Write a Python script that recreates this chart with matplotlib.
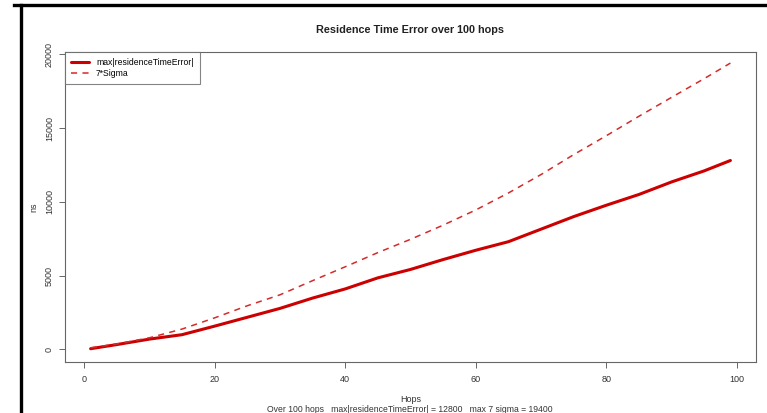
import matplotlib
matplotlib.use("Agg")
import matplotlib.pyplot as plt
from matplotlib.lines import Line2D

plt.rcParams['font.family'] = ['Liberation Sans', 'DejaVu Sans']

# values
hops = [1, 5, 10, 15, 20, 25, 30, 35, 40, 45, 50, 55, 60, 65, 70, 75, 80, 85, 90, 95, 99]
max_rte = [50, 330, 700, 1000, 1580, 2180, 2780, 3480, 4100, 4850, 5420, 6090, 6720,
           7300, 8150, 9000, 9770, 10500, 11350, 12100, 12800]
seven_sigma = [110, 370, 790, 1380, 2140, 2960, 3700, 4660, 5600, 6560, 7460, 8420, 9450,
               10600, 11850, 13200, 14480, 15800, 17080, 18350, 19400]

xticks = [0, 20, 40, 60, 80, 100]
yticks = [0, 5000, 10000, 15000, 20000]

W, H = 767, 413
fig = plt.figure(figsize=(W / 100, H / 100), dpi=100)

# black screenshot frame
fig.add_artist(Line2D([21 / W, 21 / W], [0, 1 - 5 / H], color='black', lw=2.4,
                      transform=fig.transFigure))
fig.add_artist(Line2D([14 / W, 1], [1 - 5 / H, 1 - 5 / H], color='black', lw=2.4,
                      transform=fig.transFigure))

L, R, T, B = 65, 756, 52, 362
ax = fig.add_axes([L / W, 1 - B / H, (R - L) / W, (B - T) / H])

red = '#cc0000'
ax.plot(hops, max_rte, color=red, lw=2.2, solid_capstyle='round',
        label='max|residenceTimeError|')
ax.plot(hops, seven_sigma, color='#d42a2a', lw=1.1, dashes=(4, 3.5),
        label='7*Sigma')

ax.set_xlim(-2.92, 102.92)
ax.set_ylim(-850, 20150)
ax.set_xticks(xticks)
ax.set_yticks(yticks)

for s in ax.spines.values():
    s.set_color('#666666')
    s.set_linewidth(0.8)
ax.tick_params(direction='out', length=4, width=0.7, color='#666666',
               labelsize=6.5, labelcolor='#333333')
ax.tick_params(axis='x', pad=5)
ax.tick_params(axis='y', pad=4)
plt.setp(ax.get_yticklabels(), rotation=90, va='center')

ax.set_title('Residence Time Error over 100 hops', fontsize=7.8, fontweight='bold',
             color='#222222', pad=14)
ax.set_ylabel('ns', fontsize=6.5, color='#333333', labelpad=5)
fig.text((L + R) / 2 / W, 1 - 400 / H, 'Hops', fontsize=6.5, color='#333333',
         ha='center', va='center')
fig.text(410 / W, 1 - 409 / H,
         'Over 100 hops   max|residenceTimeError| = 12800   max 7 sigma = 19400',
         fontsize=6.2, color='#333333', ha='center', va='center')

leg = ax.legend(loc='upper left', fontsize=6.2, frameon=True, fancybox=False,
                borderaxespad=0, handlelength=2.1, borderpad=0.7, labelspacing=0.25,
                handletextpad=0.8)
leg.get_frame().set_edgecolor('#666666')
leg.get_frame().set_linewidth(0.8)

fig.savefig('out.png', dpi=100)
